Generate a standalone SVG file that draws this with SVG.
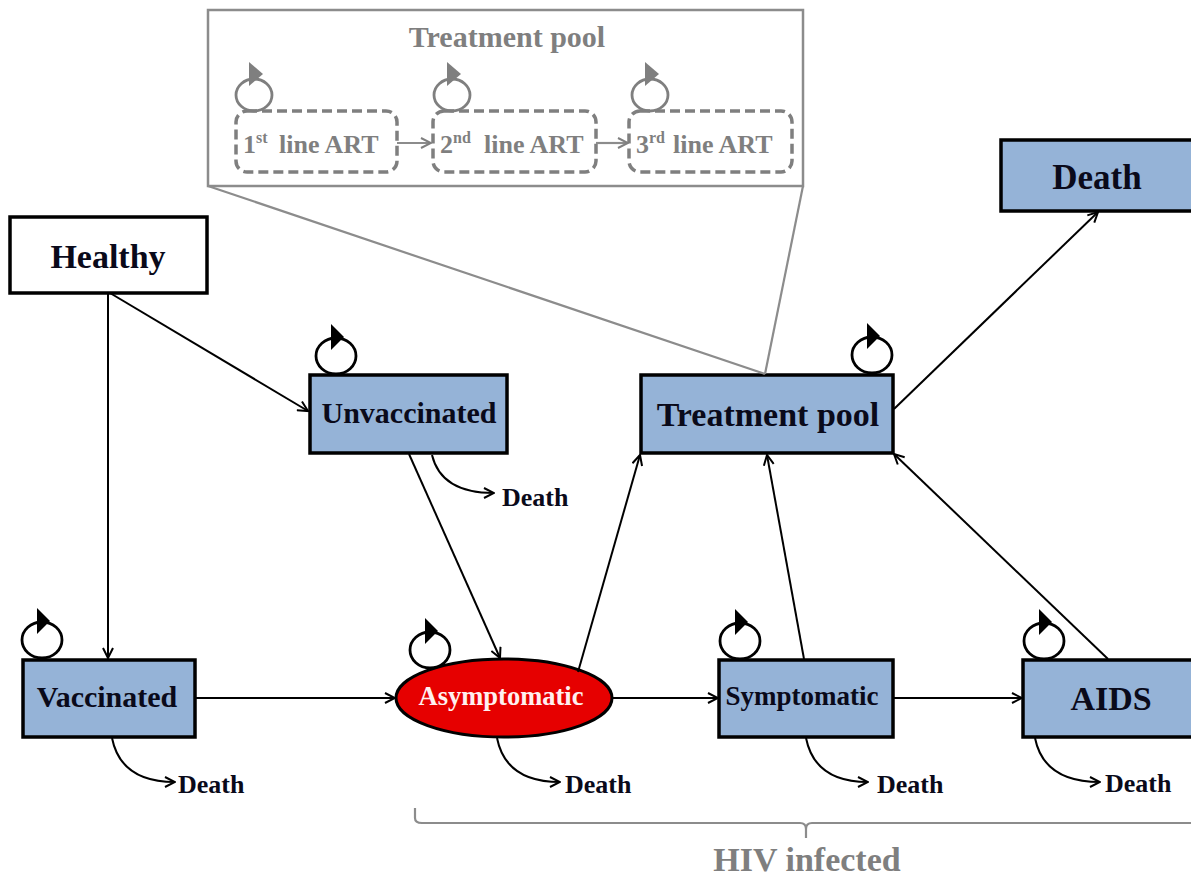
<svg xmlns="http://www.w3.org/2000/svg" xmlns:xlink="http://www.w3.org/1999/xlink" width="1191" height="881" viewBox="0 0 1191 881">
<style>
.box{fill:#95B3D7;stroke:#000;stroke-width:3.5}
.lbl{font-family:"Liberation Serif","Times New Roman",serif;font-weight:bold;fill:#0a0a1a;text-anchor:middle}
.gl{font-family:"Liberation Serif","Times New Roman",serif;font-weight:bold;fill:#7f7f7f}
.ln{fill:none;stroke:#000;stroke-width:2}
.gln{fill:none;stroke:#8c8c8c;stroke-width:2.2}
.dash{fill:none;stroke:#7f7f7f;stroke-width:3.5;stroke-dasharray:10 5}
.dth{font-family:"Liberation Serif","Times New Roman",serif;font-weight:bold;fill:#0a0a1a;font-size:26px}
</style>
<defs>
<marker id="ah" viewBox="0 0 12 12" refX="11" refY="6" markerWidth="12" markerHeight="12" markerUnits="userSpaceOnUse" orient="auto">
<path d="M1,1 L11,6 L1,11" fill="none" stroke="#000" stroke-width="2"/>
</marker>
<marker id="ahg" viewBox="0 0 12 12" refX="11" refY="6" markerWidth="12" markerHeight="12" markerUnits="userSpaceOnUse" orient="auto">
<path d="M1,1 L11,6 L1,11" fill="none" stroke="#7f7f7f" stroke-width="2"/>
</marker>
<g id="loopB"><ellipse rx="20" ry="18" fill="none" stroke="#000" stroke-width="2.8"/><path d="M-5,-32 L-5,-6 L8,-19 Z" fill="#000"/></g>
<g id="loopG"><ellipse rx="18" ry="16" fill="none" stroke="#7f7f7f" stroke-width="2.8"/><path d="M-5,-33 L-5,-9 L9,-21 Z" fill="#7f7f7f"/></g>
</defs>
<rect width="1191" height="881" fill="#fff"/>

<g id="treatment-pool-detail">
<rect x="208" y="10" width="595" height="176" fill="none" stroke="#8c8c8c" stroke-width="2.5"/>
<text class="gl" x="507" y="47" font-size="30" text-anchor="middle">Treatment pool</text>
<g id="art1"><rect class="dash" x="236" y="111" width="161" height="61" rx="11"/>
<text class="gl" font-size="26" y="153"><tspan x="243">1</tspan><tspan font-size="16" dy="-10">st</tspan><tspan x="279" dy="10">line ART</tspan></text></g>
<g id="art2"><rect class="dash" x="433" y="111" width="163" height="61" rx="11"/>
<text class="gl" font-size="26" y="153"><tspan x="440">2</tspan><tspan font-size="16" dy="-10">nd</tspan><tspan x="484" dy="10">line ART</tspan></text></g>
<g id="art3"><rect class="dash" x="629" y="111" width="163" height="61" rx="11"/>
<text class="gl" font-size="26" y="153"><tspan x="636">3</tspan><tspan font-size="16" dy="-10">rd</tspan><tspan x="673" dy="10">line ART</tspan></text></g>
</g>

<g id="healthy"><rect x="10" y="217" width="197" height="76" fill="#fff" stroke="#000" stroke-width="3.5"/><text class="lbl" x="108" y="268" font-size="34">Healthy</text></g>
<g id="unvaccinated"><rect class="box" x="310" y="375" width="197" height="78"/><text class="lbl" x="409" y="423" font-size="30">Unvaccinated</text></g>
<g id="treatment-pool"><rect class="box" x="641" y="375" width="252" height="78"/><text class="lbl" x="768" y="426" font-size="34">Treatment pool</text></g>
<g id="death"><rect class="box" x="1001" y="140" width="200" height="71"/><text class="lbl" x="1097" y="189" font-size="35">Death</text></g>
<g id="vaccinated"><rect class="box" x="23" y="660" width="172" height="77"/><text class="lbl" x="107" y="707" font-size="30">Vaccinated</text></g>
<g id="asymptomatic"><ellipse cx="504" cy="698" rx="108" ry="39" fill="#E60000" stroke="#000" stroke-width="3"/><text class="lbl" x="501" y="705" font-size="26.5" style="fill:#fff0f0">Asymptomatic</text></g>
<g id="symptomatic"><rect class="box" x="719" y="660" width="174" height="77"/><text class="lbl" x="802" y="705" font-size="27">Symptomatic</text></g>
<g id="aids"><rect class="box" x="1023" y="660" width="180" height="77"/><text class="lbl" x="1111" y="710" font-size="34">AIDS</text></g>

<g id="connectors">
<line class="gln" x1="208" y1="186" x2="765" y2="374"/>
<line class="gln" x1="803" y1="186" x2="765" y2="374"/>
<line class="gln" x1="397" y1="143" x2="431" y2="143" marker-end="url(#ahg)"/>
<line class="gln" x1="596" y1="143" x2="628" y2="143" marker-end="url(#ahg)"/>
<use xlink:href="#loopG" x="254" y="95"/>
<use xlink:href="#loopG" x="452" y="95"/>
<use xlink:href="#loopG" x="650" y="95"/>

<line class="ln" x1="108" y1="293" x2="108" y2="658" marker-end="url(#ah)"/>
<line class="ln" x1="110" y1="293" x2="308" y2="411" marker-end="url(#ah)"/>
<line class="ln" x1="409" y1="454" x2="500" y2="658" marker-end="url(#ah)"/>
<line class="ln" x1="578" y1="672" x2="640" y2="455" marker-end="url(#ah)"/>
<line class="ln" x1="804" y1="659" x2="767" y2="455" marker-end="url(#ah)"/>
<line class="ln" x1="1108" y1="659" x2="894" y2="454" marker-end="url(#ah)"/>
<line class="ln" x1="894" y1="409" x2="1098" y2="212" marker-end="url(#ah)"/>
<line class="ln" x1="195" y1="698" x2="395" y2="698" marker-end="url(#ah)"/>
<line class="ln" x1="612" y1="698" x2="718" y2="698" marker-end="url(#ah)"/>
<line class="ln" x1="893" y1="698" x2="1022" y2="698" marker-end="url(#ah)"/>

<path class="ln" d="M432,455 C438,480 458,493 494,493" marker-end="url(#ah)"/>
<path class="ln" d="M112,738 C118,768 140,782 175,782" marker-end="url(#ah)"/>
<path class="ln" d="M497,738 C503,768 525,782 560,782" marker-end="url(#ah)"/>
<path class="ln" d="M806,738 C812,768 834,782 868,782" marker-end="url(#ah)"/>
<path class="ln" d="M1035,738 C1041,768 1063,782 1100,782" marker-end="url(#ah)"/>

<use xlink:href="#loopB" x="336" y="356"/>
<use xlink:href="#loopB" x="872" y="355"/>
<use xlink:href="#loopB" x="42" y="640"/>
<use xlink:href="#loopB" x="430" y="650"/>
<use xlink:href="#loopB" x="740" y="641"/>
<use xlink:href="#loopB" x="1044" y="641"/>

<path class="gln" d="M415,808 L415,818 Q415,823 422,823 L800,823 Q806,823 806,829 L806,838 M806,829 Q806,823 812,823 L1191,823"/>
</g>

<text class="dth" x="502" y="506">Death</text>
<text class="dth" x="178" y="793">Death</text>
<text class="dth" x="565" y="793">Death</text>
<text class="dth" x="877" y="793">Death</text>
<text class="dth" x="1105" y="792">Death</text>
<text class="gl" x="807" y="871" font-size="34" text-anchor="middle">HIV infected</text>
</svg>
